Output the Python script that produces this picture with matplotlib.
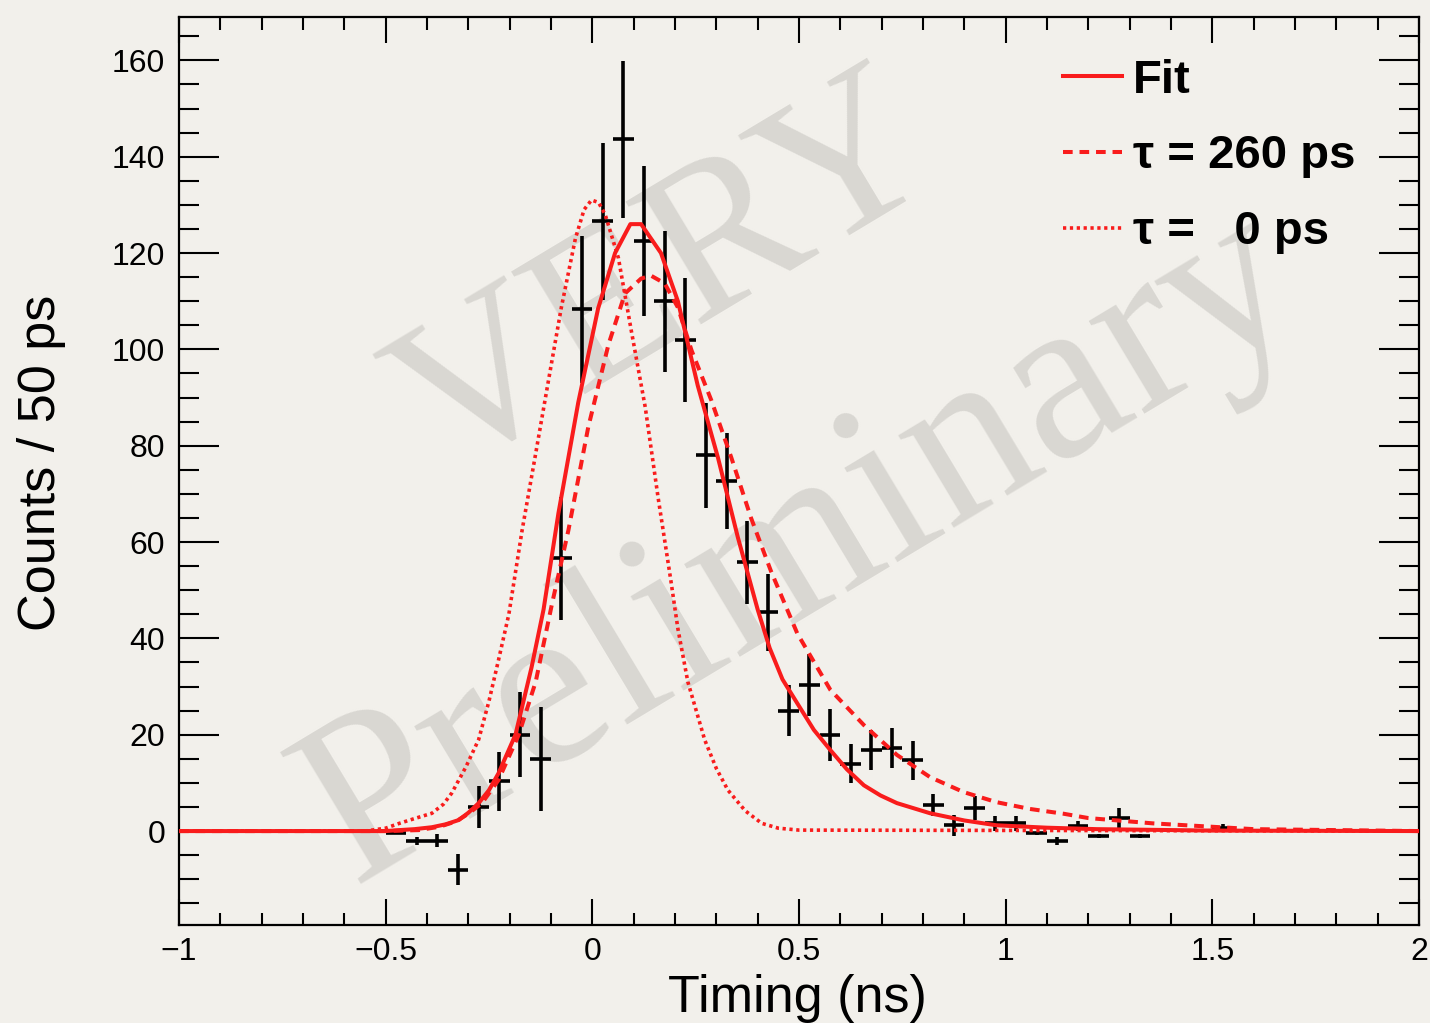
import matplotlib
matplotlib.use("Agg")
import matplotlib.pyplot as plt
from matplotlib.ticker import MultipleLocator, FuncFormatter

# ---------------- data ----------------
bin_x = [-0.475, -0.425, -0.375, -0.325, -0.275, -0.225, -0.175, -0.125, -0.075, -0.025,
         0.025, 0.075, 0.125, 0.175, 0.225, 0.275, 0.325, 0.375, 0.425, 0.475,
         0.525, 0.575, 0.625, 0.675, 0.725, 0.775, 0.825, 0.875, 0.925, 0.975,
         1.025, 1.075, 1.125, 1.175, 1.225, 1.275, 1.325, 1.525]
counts = [-0.4, -2.0, -2.0, -8.0, 5.0, 10.3, 20.0, 15.0, 56.6, 108.3,
          126.6, 143.6, 122.5, 110.0, 102.0, 78.0, 72.7, 55.8, 45.4, 25.0,
          30.3, 20.0, 14.0, 16.8, 17.2, 14.7, 5.4, 1.2, 4.7, 1.6,
          1.6, -0.5, -2.0, 1.0, -1.0, 2.7, -1.0, 0.6]
count_err = [0.3, 0.8, 1.4, 3.2, 4.4, 6.2, 8.8, 10.8, 12.8, 15.2,
             16.3, 16.3, 15.6, 14.6, 12.9, 10.9, 10.0, 8.6, 8.0, 5.3,
             6.4, 5.4, 4.1, 4.1, 4.2, 4.0, 2.2, 2.2, 2.5, 1.5,
             1.5, 0.4, 0.8, 1.0, 0.4, 2.0, 0.4, 0.8]
bin_half_width = 0.025

fit_x = [-1.0, -0.5, -0.467, -0.43, -0.388, -0.355, -0.323, -0.3, -0.275, -0.25, -0.227,
         -0.186, -0.147, -0.118, -0.082, -0.034, 0.014, 0.055, 0.092, 0.118, 0.166,
         0.207, 0.255, 0.304, 0.352, 0.400, 0.429, 0.46, 0.496, 0.536, 0.576, 0.616,
         0.657, 0.697, 0.737, 0.817, 0.9, 0.978, 1.1, 1.22, 1.5, 2.0]
fit_y = [0.0, 0.0, 0.2, 0.4, 0.8, 1.4, 2.3, 3.8, 5.8, 8.5, 12.0,
         20.0, 34.0, 46.0, 66.0, 89.0, 108.5, 120.0, 126.0, 126.0, 120.0,
         110.0, 92.5, 77.5, 61.0, 46.0, 38.0, 31.5, 26.5, 21.0, 16.8, 12.8,
         9.5, 7.4, 5.8, 3.7, 2.2, 1.2, 0.7, 0.4, 0.1, 0.0]

tau260_x = [-1.0, -0.5, -0.42, -0.37, -0.33, -0.3, -0.267, -0.227, -0.178, -0.137, -0.098,
            -0.058, -0.010, 0.039, 0.079, 0.118, 0.142, 0.175, 0.207, 0.240, 0.288,
            0.336, 0.384, 0.432, 0.496, 0.576, 0.657, 0.737, 0.817, 0.898, 0.978,
            1.058, 1.14, 1.20, 1.356, 1.6, 2.0]
tau260_y = [0.0, 0.0, 0.2, 0.9, 2.0, 3.6, 5.8, 10.6, 20.0, 31.0, 47.0,
            62.4, 83.8, 101.0, 111.6, 114.7, 115.3, 113.7, 108.7, 99.8, 89.4,
            77.6, 65.0, 54.0, 41.0, 29.3, 22.0, 15.8, 11.2, 8.1, 6.0,
            4.6, 3.6, 2.7, 1.6, 0.4, 0.0]

tau0_x = [-1.0, -0.55, -0.5, -0.467, -0.43, -0.388, -0.360, -0.340, -0.306, -0.275, -0.250,
          -0.227, -0.202, -0.170, -0.137, -0.106, -0.075, -0.041, -0.020, -0.002, 0.015,
          0.031, 0.063, 0.094, 0.128, 0.159, 0.190, 0.207, 0.231, 0.272, 0.300, 0.328,
          0.370, 0.410, 0.450, 0.500, 2.0]
tau0_y = [0.0, 0.0, 0.6, 1.6, 2.6, 3.7, 5.6, 7.9, 13.3, 19.0, 27.0,
          35.5, 45.0, 62.4, 78.4, 93.6, 108.7, 123.0, 129.0, 131.0, 130.5,
          128.0, 119.0, 104.0, 88.0, 69.3, 52.0, 42.0, 31.0, 18.9, 13.0, 8.5,
          4.2, 1.6, 0.6, 0.2, 0.0]

legend_labels = ["Fit", "\u03c4 = 260 ps", "\u03c4 =   0 ps"]
x_label = "Timing (ns)"
y_label = "Counts / 50 ps"
watermark_1 = "VERY"
watermark_2 = "Preliminary"

# ---------------- style ----------------
plt.rcParams['font.family'] = ['Liberation Sans', 'DejaVu Sans']
plt.rcParams['axes.unicode_minus'] = True
bg = '#f2f0eb'
red = '#f91c1c'
wm_color = '#d9d7d2'

fig = plt.figure(figsize=(14.3, 10.23), dpi=100, facecolor=bg)
ax = fig.add_axes([179/1430, 1 - 925/1023, (1419-179)/1430, (925-17)/1023])
ax.set_facecolor(bg)

ax.set_xlim(-1, 2)
ax.set_ylim(-19.5, 169)

# watermark
ax.text(668/1430, 1 - 282/1023, watermark_1, transform=fig.transFigure,
        fontsize=158, family='Liberation Serif', color=wm_color,
        rotation=31, ha='center', va='center', rotation_mode='anchor',
        zorder=0.5, clip_on=False)
ax.text(802/1430, 1 - 550/1023, watermark_2, transform=fig.transFigure,
        fontsize=170, family='Liberation Serif', color=wm_color,
        rotation=31, ha='center', va='center', rotation_mode='anchor',
        zorder=0.5, clip_on=False)

# data points
ax.errorbar(bin_x, counts, yerr=count_err, xerr=bin_half_width, fmt='none',
            ecolor='black', elinewidth=2.6, capsize=0, zorder=2)

# curves
l_fit, = ax.plot(fit_x, fit_y, color=red, lw=2.9, solid_joinstyle='round', zorder=3,
                 label=legend_labels[0])
l_260, = ax.plot(tau260_x, tau260_y, color=red, lw=2.9, linestyle=(0, (2.4, 1.7)),
                 zorder=3, label=legend_labels[1])
l_0, = ax.plot(tau0_x, tau0_y, color=red, lw=2.6, linestyle=(0, (0.9, 1.0)),
               zorder=3, label=legend_labels[2])

leg = ax.legend(handles=[l_fit, l_260, l_0], loc='upper left',
                bbox_to_anchor=(0.713, 0.954), frameon=False,
                prop={'family': 'Liberation Sans', 'weight': 'bold', 'size': 34},
                handlelength=1.25, handletextpad=0.23, labelspacing=0.67,
                borderpad=0, borderaxespad=0)

# ticks (ROOT style: inward on all sides)
ax.xaxis.set_major_locator(MultipleLocator(0.5))
ax.xaxis.set_minor_locator(MultipleLocator(0.1))
ax.yaxis.set_major_locator(MultipleLocator(20))
ax.yaxis.set_minor_locator(MultipleLocator(5))
ax.xaxis.set_major_formatter(FuncFormatter(lambda v, p: f"{v:g}".replace('-', '\u2212')))
ax.tick_params(axis='x', which='major', direction='in', length=19, width=1.5,
               top=True, bottom=True, labelsize=23, pad=9)
ax.tick_params(axis='x', which='minor', direction='in', length=9, width=1.5,
               top=True, bottom=True)
ax.tick_params(axis='y', which='major', direction='in', length=29, width=1.5,
               left=True, right=True, labelsize=23, pad=10)
ax.tick_params(axis='y', which='minor', direction='in', length=14.5, width=1.5,
               left=True, right=True)
for s in ax.spines.values():
    s.set_linewidth(1.6)

fig.text(797/1430, (1023-1012)/1023, x_label, fontsize=37.5, ha='center', va='baseline')
fig.text(42/1430, 1 - 463/1023, y_label, fontsize=37.5, rotation=90,
         ha='center', va='center')

fig.savefig('out.png', dpi=100, facecolor=bg)
